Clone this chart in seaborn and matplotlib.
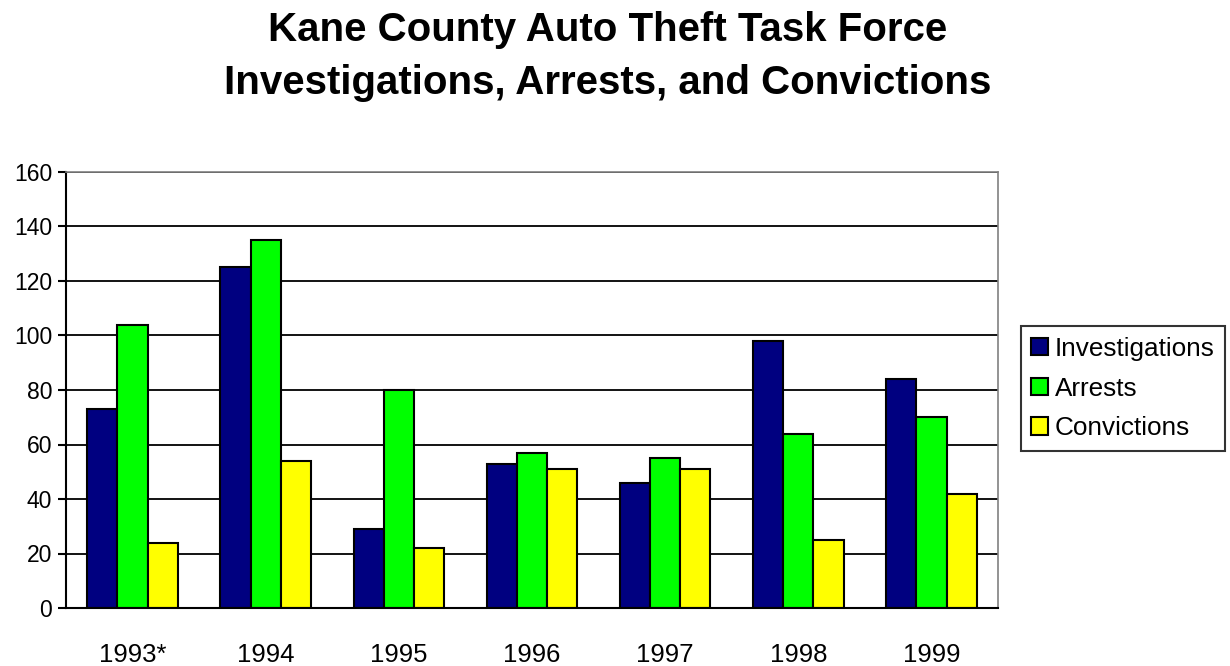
import matplotlib
matplotlib.use("Agg")
import matplotlib.pyplot as plt
import seaborn as sns
import pandas as pd
import numpy as np

years = ["1993*", "1994", "1995", "1996", "1997", "1998", "1999"]
investigations = [73, 125, 29, 53, 46, 98, 84]
arrests = [104, 135, 80, 57, 55, 64, 70]
convictions = [24, 54, 22, 51, 51, 25, 42]
series_names = ["Investigations", "Arrests", "Convictions"]
colors = ["#000080", "#00FF00", "#FFFF00"]
y_ticks = [0, 20, 40, 60, 80, 100, 120, 140, 160]

df = pd.DataFrame({
    "Year": years * 3,
    "Series": [series_names[0]] * 7 + [series_names[1]] * 7 + [series_names[2]] * 7,
    "Value": investigations + arrests + convictions,
})

sns.set_style("white")
plt.rcParams['font.family'] = ['Liberation Sans', 'DejaVu Sans']
plt.rcParams['text.color'] = 'black'
plt.rcParams['xtick.color'] = 'black'
plt.rcParams['ytick.color'] = 'black'
plt.rcParams['axes.labelcolor'] = 'black'

fig = plt.figure(figsize=(12.3, 6.66), dpi=100)
ax = fig.add_axes([66 / 1230, 1 - 608 / 666, (998 - 66) / 1230, (608 - 172) / 666])

sns.barplot(data=df, x="Year", y="Value", hue="Series", order=years,
            hue_order=series_names, palette=colors, width=0.68, saturation=1,
            edgecolor="black", linewidth=1.5, ax=ax, legend=True)

ax.set_ylim(0, 160)
ax.set_xlim(-0.5, 6.5)
ax.set_yticks(y_ticks)
ax.yaxis.grid(True, color="black", linewidth=1.3)
ax.set_axisbelow(True)
ax.set_xlabel("")
ax.set_ylabel("")

for s in ["left", "bottom"]:
    ax.spines[s].set_color("black")
    ax.spines[s].set_linewidth(1.5)
for s in ["top", "right"]:
    ax.spines[s].set_color("#808080")
    ax.spines[s].set_linewidth(1.2)

ax.tick_params(axis="x", which="major", length=0, labelsize=18.5, pad=25, labelcolor="black")
ax.set_xticks(np.arange(-0.5, 7.0, 1.0), minor=True)
ax.tick_params(axis="x", which="minor", length=7, width=1.5, color="black", direction="out")
ax.tick_params(axis="y", length=6, width=1.5, color="black", direction="out", labelsize=16.5,
               pad=4, left=True, labelcolor="black")

leg = ax.legend(loc="center left", bbox_to_anchor=(1021 / 1230, 1 - 388.5 / 666),
                bbox_transform=fig.transFigure, frameon=True, fancybox=False,
                fontsize=18.8, handlelength=0.65, handleheight=0.65, handletextpad=0.25,
                labelspacing=0.6, borderpad=0.4, borderaxespad=0)
leg.get_frame().set_edgecolor("black")
leg.get_frame().set_linewidth(1.5)
for t in leg.get_texts():
    t.set_color("black")

fig.text(608 / 1230, 1 - 41 / 666, "Kane County Auto Theft Task Force",
         ha="center", va="baseline", fontsize=29, fontweight="bold", color="black")
fig.text(608 / 1230, 1 - 94 / 666, "Investigations, Arrests, and Convictions",
         ha="center", va="baseline", fontsize=29, fontweight="bold", color="black")

fig.savefig("out.png", dpi=100, facecolor="white")
